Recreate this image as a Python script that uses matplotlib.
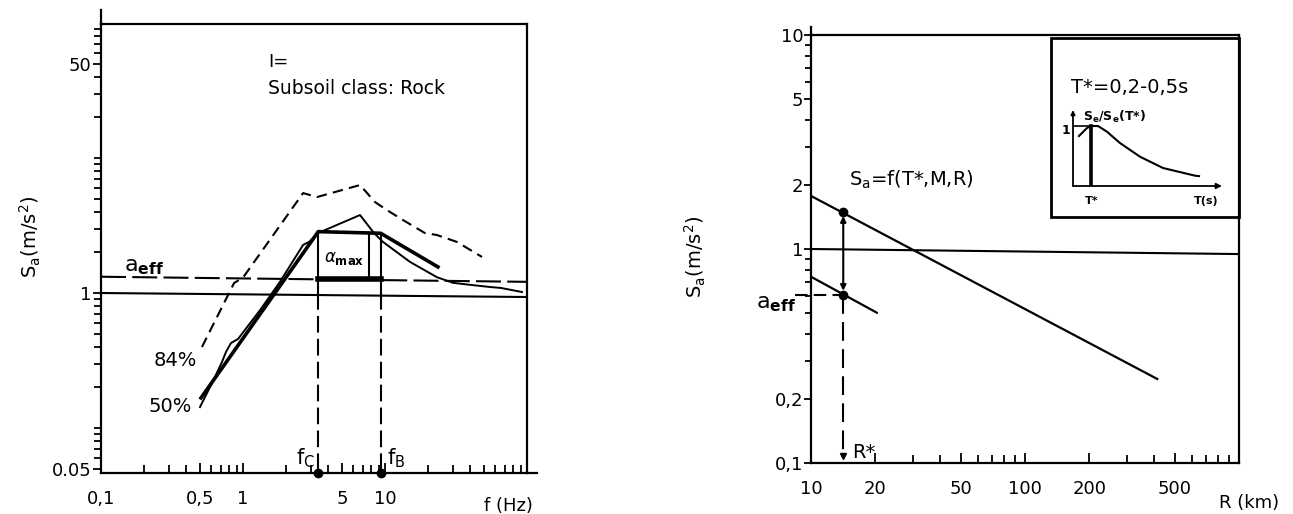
import numpy as np
import matplotlib.pyplot as plt
from matplotlib.patches import Rectangle
from matplotlib.ticker import LogLocator, NullFormatter

# ---------------- data: left panel (response spectrum, rock) ----------------
f84 = [0.514, 0.865, 1.0, 2.65, 3.32, 6.67, 8.5, 10.3, 13.4, 19.1, 23.2, 32.1, 48.2]
s84 = [0.398, 1.186, 1.30, 5.5, 5.14, 6.31, 4.72, 4.12, 3.47, 2.78, 2.69, 2.39, 1.85]

f50 = [0.498, 0.605, 0.711, 0.759, 0.823, 0.922, 1.32, 1.82, 2.65, 2.92, 3.37,
       6.67, 8.37, 9.68, 15.0, 23.2, 30.1, 39.7, 54.9, 65.6, 92.2]
s50 = [0.143, 0.215, 0.308, 0.366, 0.426, 0.456, 0.748, 1.21, 2.27, 2.39, 2.78,
       3.78, 2.78, 2.39, 1.70, 1.31, 1.19, 1.15, 1.108, 1.09, 1.017]

f_design = [0.506, 3.39, 9.33, 23.6]
s_design = [0.167, 2.85, 2.77, 1.56]

f_line = [0.1, 100]
s_one = [1.0, 0.934]          # S=1 reference line (scan is slightly tilted)
s_aeff_left = [1.32, 1.21]    # dashed a_eff line
fc, fB = 3.39, 9.33
s_plateau = [2.85, 2.77]
aeff_bold = 1.263
f_amax = 7.75
s_amax = [2.78, 1.27]

xt1 = [0.1, 0.5, 1, 5, 10]
xl1 = ['0,1', '0,5', '1', '5', '10']
yt1 = [0.05, 1, 50]
yl1 = ['0.05', '1', '50']

# ---------------- data: right panel (attenuation) ----------------
r_long = [10, 415]
s_long = [1.77, 0.247]
r_short = [10, 20.3]
s_short = [0.742, 0.504]
r_one = [10, 1000]
s_one_r = [1.0, 0.947]
r_star = 14.15
s_top_dot = 1.49
a_eff = 0.61
r_aeff = [8.4, 14.15]

xt2 = [10, 20, 50, 100, 200, 500]
xl2 = ['10', '20', '50', '100', '200', '500']
yt2 = [0.1, 0.2, 1, 2, 5, 10]
yl2 = ['0,1', '0,2', '1', '2', '5', '10']

# inset sketch S_e/S_e(T*) vs T (normalised)
t_in = [0.04, 0.094, 0.121, 0.168, 0.228, 0.315, 0.45, 0.604, 0.819, 0.846]
se_in = [0.833, 0.967, 1.0, 1.0, 0.905, 0.717, 0.488, 0.30, 0.172, 0.165]
t_star = 0.119

W, H = 1293, 514
fig = plt.figure(figsize=(W / 100, H / 100), dpi=100)


def box(l, t, r, b):
    return [l / W, 1 - b / H, (r - l) / W, (b - t) / H]


def ftext(x, y, s, **kw):
    kw.setdefault('ha', 'left')
    kw.setdefault('va', 'center')
    fig.text(x / W, 1 - y / H, s, **kw)


def style_axes(ax, xt, xl, yt, yl, ylen, ypad):
    ax.set_xscale('log')
    ax.set_yscale('log')
    for sp in ax.spines.values():
        sp.set_linewidth(1.6)
    ax.set_xticks(xt, xl)
    ax.set_yticks(yt, yl)
    ax.xaxis.set_minor_locator(LogLocator(base=10, subs=np.arange(1, 10)))
    ax.yaxis.set_minor_locator(LogLocator(base=10, subs=np.arange(1, 10)))
    ax.xaxis.set_minor_formatter(NullFormatter())
    ax.yaxis.set_minor_formatter(NullFormatter())
    ax.tick_params(axis='x', which='both', direction='in', top=False, width=1.3,
                   labelsize=13, pad=12)
    ax.tick_params(axis='x', which='major', length=7)
    ax.tick_params(axis='x', which='minor', length=6)
    ax.tick_params(axis='y', which='both', direction='out', right=False, width=1.3,
                   labelsize=13, pad=ypad)
    ax.tick_params(axis='y', which='major', length=ylen)
    ax.tick_params(axis='y', which='minor', length=ylen - 1)


# ================= left panel =================
ax1 = fig.add_axes(box(101, 24, 527, 473))
style_axes(ax1, xt1, xl1, yt1, yl1, 6, 1)
ax1.set_xlim(0.1, 100)
ax1.set_ylim(0.0464, 98.4)

ax1.plot(f84, s84, color='k', lw=1.5, dashes=(5, 3))
ax1.plot(f50, s50, color='k', lw=1.4)
ax1.plot(f_design, s_design, color='k', lw=2.6)
ax1.plot(f_line, s_one, color='k', lw=1.5)
ax1.plot(f_line, s_aeff_left, color='k', lw=1.5, dashes=(12, 3))
ax1.plot([fc, fB], [aeff_bold, aeff_bold], color='k', lw=4)
ax1.plot([f_amax, f_amax], s_amax, color='k', lw=1.5)
for fx, sp in zip([fc, fB], s_plateau):
    ax1.plot([fx, fx], [sp, 1.0], color='k', lw=1.5)
    ax1.plot([fx, fx], [1.0, 0.0464], color='k', lw=1.5, dashes=(8, 3))
ax1.plot([fc, fB], [0, 0], 'o', color='k', ms=6,
         transform=ax1.get_xaxis_transform(), clip_on=False)
# axis lines run a little past the frame
ax1.plot([0, 0], [1, 1.032], color='k', lw=1.6, transform=ax1.transAxes, clip_on=False)
ax1.plot([1, 1.024], [0, 0], color='k', lw=1.6, transform=ax1.transAxes, clip_on=False)

ftext(268, 62, 'I=', fontsize=13)
ftext(268, 88, 'Subsoil class: Rock', fontsize=13.5)
ftext(124, 267, r'$\mathsf{a}_{\mathbf{eff}}$', fontsize=16)
ftext(324, 258, r'$\alpha_{\mathbf{max}}$', fontsize=12)
ftext(154, 360, '84%', fontsize=14)
ftext(149, 407, '50%', fontsize=14)
ftext(296, 458, r'$\mathsf{f}_{\mathsf{C}}$', fontsize=15)
ftext(387, 458, r'$\mathsf{f}_{\mathsf{B}}$', fontsize=15)
ftext(508, 506, 'f (Hz)', fontsize=13, ha='center')
ftext(30, 237, r'S$_\mathsf{a}$(m/s$^2$)', fontsize=14, ha='center', rotation=90)

# ================= right panel =================
ax2 = fig.add_axes(box(811, 35, 1239, 463))
style_axes(ax2, xt2, xl2, yt2, yl2, 5, 0.5)
ax2.set_xlim(10, 1000)
ax2.set_ylim(0.1, 10)

ax2.plot(r_long, s_long, color='k', lw=1.6)
ax2.plot(r_short, s_short, color='k', lw=1.6)
ax2.plot(r_one, s_one_r, color='k', lw=1.5)
ax2.annotate('', xy=(r_star, s_top_dot), xytext=(r_star, a_eff),
             arrowprops=dict(arrowstyle='<|-|>', color='k', lw=1.5,
                             mutation_scale=8, shrinkA=3, shrinkB=3))
ax2.plot([r_star, r_star], [s_top_dot, a_eff], 'o', color='k', ms=6)
ax2.plot(r_aeff, [a_eff, a_eff], color='k', lw=1.5, dashes=(6, 3), clip_on=False)
ax2.plot([r_star, r_star], [a_eff, 0.105], color='k', lw=1.5, dashes=(9, 4))
ax2.plot([r_star], [0.108], 'v', color='k', ms=5)
ax2.plot([0, 0], [1, 1.018], color='k', lw=1.6, transform=ax2.transAxes, clip_on=False)

ftext(849, 180, r'S$_\mathsf{a}$=f(T*,M,R)', fontsize=14)
ftext(756, 304, r'$\mathsf{a}_{\mathbf{eff}}$', fontsize=16)
ftext(852, 452, 'R*', fontsize=14)
ftext(1249, 503, 'R (km)', fontsize=13, ha='center')
ftext(695, 257, r'S$_\mathsf{a}$(m/s$^2$)', fontsize=14, ha='center', rotation=90)

# inset frame and sketch
fig.patches.append(Rectangle((1051 / W, 1 - 217 / H), 188 / W, 179 / H, fill=False,
                             lw=2, edgecolor='k', transform=fig.transFigure))
ftext(1071, 87, 'T*=0,2-0,5s', fontsize=14)

ax3 = fig.add_axes(box(1073, 110, 1222, 186))
ax3.set_xlim(0, 1)
ax3.set_ylim(0, 1.267)
ax3.axis('off')
ax3.annotate('', xy=(1, 0), xytext=(0, 0), xycoords='axes fraction',
             arrowprops=dict(arrowstyle='-|>', color='k', lw=1.3, mutation_scale=8,
                             shrinkA=0, shrinkB=0))
ax3.annotate('', xy=(0, 1), xytext=(0, 0), xycoords='axes fraction',
             arrowprops=dict(arrowstyle='-|>', color='k', lw=1.3, mutation_scale=6,
                             shrinkA=0, shrinkB=0))
ax3.plot(t_in, se_in, color='k', lw=1.5)
ax3.plot([0, t_star], [1, 1], color='k', lw=1.2)
ax3.plot([t_star, t_star], [0, 1], color='k', lw=2.6)

ftext(1083, 117, r'S$_\mathbf{e}$/S$_\mathbf{e}$(T*)', fontsize=9, fontweight='bold')
ftext(1066, 131, '1', fontsize=9, fontweight='bold', ha='center')
ftext(1092, 201, 'T*', fontsize=8, fontweight='bold', ha='center')
ftext(1206, 201, 'T(s)', fontsize=8, fontweight='bold', ha='center')

fig.savefig('out.png', dpi=100)
